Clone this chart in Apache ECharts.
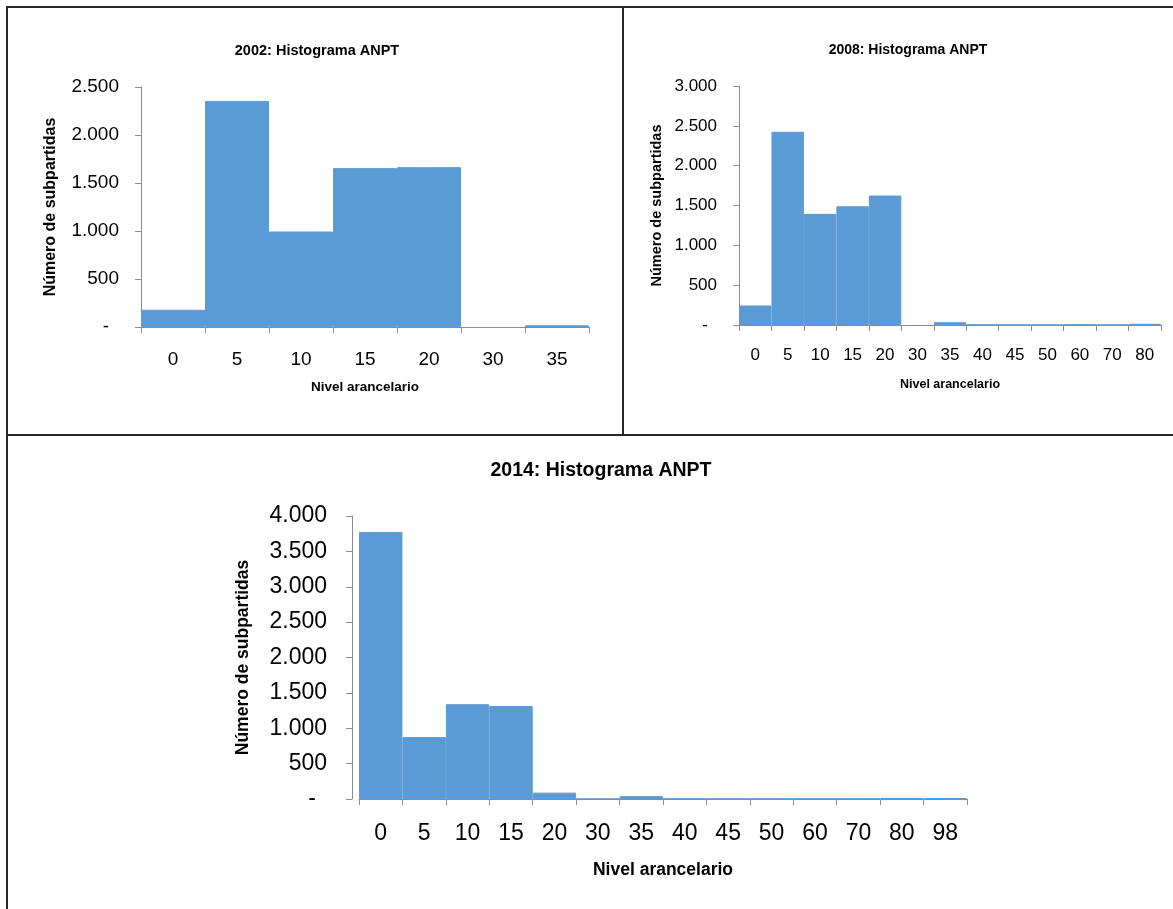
<!DOCTYPE html>
<html>
<head>
<meta charset="utf-8">
<script src="https://cdn.jsdelivr.net/npm/echarts@6/dist/echarts.min.js"></script>
<style>
  html, body { margin: 0; padding: 0; background: #ffffff; }
  #chart { width: 1173px; height: 909px; }
</style>
</head>
<body>
<div id="chart"></div>
<script>
// Tariff-level histograms (number of sub-headings per tariff level)
const cats2002 = ['0', '5', '10', '15', '20', '30', '35'];
const vals2002 = [180, 2355, 995, 1655, 1665, 0, 18];

const cats2008 = ['0', '5', '10', '15', '20', '30', '35', '40', '45', '50', '60', '70', '80'];
const vals2008 = [245, 2425, 1395, 1490, 1625, 0, 35, 3, 2, 2, 6, 2, 15];

const cats2014 = ['0', '5', '10', '15', '20', '30', '35', '40', '45', '50', '60', '70', '80', '98'];
const vals2014 = [3775, 875, 1340, 1315, 90, 2, 40, 4, 3, 3, 6, 4, 15, 12];

const titles = ['2002: Histograma ANPT', '2008: Histograma ANPT', '2014: Histograma ANPT'];
const yName = 'Número de subpartidas';
const xName = 'Nivel arancelario';

const BAR = '#5B9BD5';
const AXIS = '#8c8c8c';
const FRAME = '#262626';
const SANS = '"Liberation Sans", Arial, sans-serif';

function fmt(v) {
  if (v === 0) return '{z|-}';
  return String(v).replace(/\B(?=(\d{3})+(?!\d))/g, '.');
}

function panel(i, cats, vals, o) {
  return {
    grid: { left: o.left, top: o.top, width: o.width, height: o.height, containLabel: false },
    title: {
      text: titles[i], left: o.titleX, top: o.titleY, textAlign: 'center',
      textStyle: { fontFamily: SANS, fontWeight: 'bold', fontSize: o.titleSize, color: '#000' }
    },
    xAxis: {
      type: 'category', gridIndex: i, data: cats,
      axisLine: { lineStyle: { color: AXIS, width: 1 } },
      axisTick: { show: true, alignWithLabel: false, length: 6, lineStyle: { color: AXIS } },
      axisLabel: { color: '#000', fontFamily: SANS, fontSize: o.labelSize, margin: o.xMargin, interval: 0 },
      name: xName, nameLocation: 'middle', nameGap: o.xNameGap,
      nameTextStyle: { fontFamily: SANS, fontWeight: 'bold', fontSize: o.xNameSize, color: '#000' }
    },
    yAxis: {
      type: 'value', gridIndex: i, min: 0, max: o.max, interval: o.interval,
      offset: o.yOffset || 0,
      splitLine: { show: false },
      axisLine: { show: true, lineStyle: { color: AXIS, width: 1 } },
      axisTick: { show: true, length: 6, lineStyle: { color: AXIS } },
      axisLabel: {
        color: '#000', fontFamily: SANS, fontSize: o.labelSize, margin: o.yMargin,
        formatter: fmt,
        rich: { z: { fontFamily: SANS, fontSize: o.labelSize, color: '#000', padding: [0, o.dashPad, 0, 0] } }
      },
      name: yName, nameLocation: 'middle', nameGap: o.yNameGap, nameRotate: 90,
      nameTextStyle: { fontFamily: SANS, fontWeight: 'bold', fontSize: o.yNameSize, color: '#000' }
    },
    series: {
      type: 'bar', xAxisIndex: i, yAxisIndex: i,
      // empty bins get no outline so nothing is drawn for them
      data: vals.map(v => v === 0 ? { value: v, itemStyle: { borderWidth: 0 } } : v),
      barCategoryGap: '0%', barGap: '0%',
      itemStyle: { color: BAR, borderColor: BAR, borderWidth: 1 },
      silent: true
    }
  };
}

const panels = [
  panel(0, cats2002, vals2002, {
    left: 141, top: 87, width: 448, height: 240, max: 2500, interval: 500,
    titleX: 312, titleY: 38, titleSize: 14.5, labelSize: 19, xMargin: 23, yMargin: 22,
    xNameGap: 53, xNameSize: 13.5, yNameGap: 82, yNameSize: 16, dashPad: 10
  }),
  panel(1, cats2008, vals2008, {
    left: 739, top: 86, width: 422, height: 239, max: 3000, interval: 500,
    titleX: 903, titleY: 38, titleSize: 14, labelSize: 17, xMargin: 22, yMargin: 22,
    xNameGap: 53, xNameSize: 12.5, yNameGap: 75, yNameSize: 14.5, dashPad: 9
  }),
  panel(2, cats2014, vals2014, {
    left: 359, top: 516, width: 608, height: 283, max: 4000, interval: 500, yOffset: 7,
    titleX: 596, titleY: 456, titleSize: 19.5, labelSize: 23, xMargin: 23, yMargin: 25,
    xNameGap: 62, xNameSize: 17.5, yNameGap: 100, yNameSize: 17.5, dashPad: 11
  })
];

// Panel frame lines
const frame = [
  [6, 7, 1173, 7],
  [7, 6, 7, 909],
  [623, 7, 623, 435],
  [7, 435, 1173, 435]
].map(p => ({
  type: 'line',
  shape: { x1: p[0], y1: p[1], x2: p[2], y2: p[3] },
  style: { stroke: FRAME, lineWidth: 2 },
  silent: true
}));

const chart = echarts.init(document.getElementById('chart'), null, { renderer: 'canvas' });
chart.setOption({
  animation: false,
  backgroundColor: '#ffffff',
  title: panels.map(p => p.title),
  grid: panels.map(p => p.grid),
  xAxis: panels.map(p => p.xAxis),
  yAxis: panels.map(p => p.yAxis),
  series: panels.map(p => p.series),
  graphic: frame
});
</script>
</body>
</html>
